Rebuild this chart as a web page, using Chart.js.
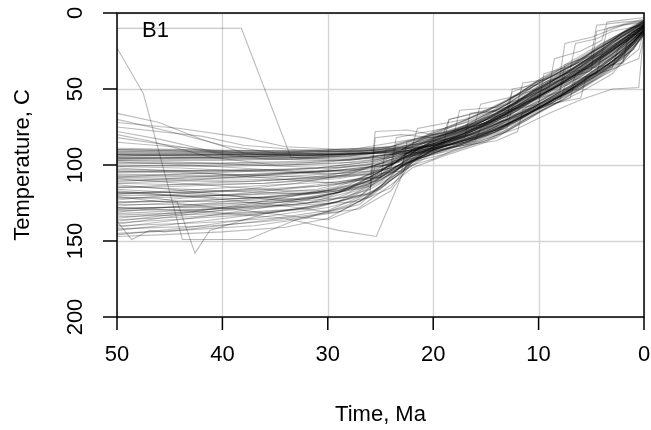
<!DOCTYPE html>
<html>
<head>
<meta charset="utf-8">
<script src="https://cdn.jsdelivr.net/npm/chart.js@4/dist/chart.umd.min.js"></script>
<style>
  html, body { margin: 0; padding: 0; background: #fff; }
  #wrap { width: 651px; height: 430px; }
</style>
</head>
<body>
<div id="wrap"><canvas id="tt" width="651" height="430"></canvas></div>
<script>
// axis ticks
const timeTicks = [50, 40, 30, 20, 10, 0];
const tempTicks = [0, 50, 100, 150, 200];

// thermal histories, each one a list of [time Ma, temperature C]
// paths that sit near 90-97 C before cooling
const flatPaths = [
  [[50,90],[40,91],[30,90],[24,88],[20,79],[16,70],[12,57],[9,45],[6,33],[3,19],[0,7]],
  [[50,92],[43,92],[35,92],[27,91],[22,89],[18,86],[14,77],[11,66],[8,55],[5,41],[2,28],[0,13]],
  [[50,93],[38,94],[29,93],[23,90],[20,78],[17,72],[15,66],[13,62],[12.5,52],[9,42],[6,32],[4,20],[1,9],[0,5]],
  [[50,95],[41,95],[32,94],[25,92],[21,90],[17,85],[14,78],[10,60],[7,50],[4.5,40],[4,27],[1.5,18],[0,12]],
  [[50,90],[44,90],[36,91],[28,91],[23.5,89],[20,84],[15,74],[11,58],[8,47],[5,33],[2,20],[0,10]],
  [[50,96],[39,96],[30,95],[26,94],[22,92],[18,88],[16,84],[15.5,76],[12,68],[9,58],[6,49],[3,38],[0.5,24],[0,12]],
  [[50,91],[45,91],[34,92],[26,90],[21,84],[17,76],[13,63],[10,52],[7,40],[4,26],[2,17],[0,8]],
  [[50,94],[40,93],[31,92],[24,90],[20,87],[16,80],[13,70],[9,57],[7,52],[6.5,40],[3,28],[0,11]],
  [[50,89],[42,90],[33,91],[27,89],[21,82],[19,79],[18.5,70],[14,62],[10,45],[7,33],[4,21],[1,8],[0,5]],
  [[50,92],[36,93],[28,92],[23,91],[20,88],[15,79],[12,70],[9,60],[6,50],[3,36],[2.5,24],[0,9]],
  [[50,97],[40,97],[33,96],[26,93],[22,87],[18,78],[14,68],[11,55],[8,43],[5,29],[2,15],[0,7]],
  [[50,93],[44,94],[37,94],[30,93],[25,92],[21,92],[17,87],[13,77],[10,65],[8,58],[7.5,48],[4,38],[1,24],[0,13]],
  [[50,91],[39,92],[29,91],[24,89],[22,88],[21.5,76],[17,70],[13,58],[10,44],[6,30],[3,17],[0,6]],
  [[50,95],[41,95],[32,95],[27,93],[23,91],[19,86],[15,77],[11,63],[8,50],[5,37],[2,25],[0,11]],
  [[50,90],[42,91],[34,91],[28,90],[24,88],[21,86],[18,82],[15,73],[12,62],[9,51],[6,41],[3,27],[0,9]],
  [[50,94],[38,93],[30,93],[25,90],[20,80],[17,74],[14,66],[11,55],[8,42],[5,30],[3,22],[0,8]],
  [[50,96],[40,96],[32,96],[26,95],[22,91],[19,85],[16,79],[13,70],[10,60],[7,48],[4,34],[1,19],[0,10]],
  [[50,93],[42,93],[34,93],[27,92],[23,90],[20,86],[17,79],[14,70],[11,59],[8,47],[5,34],[2,20],[0,9]]
];

// paths starting cooler and heating into the band
const coolPaths = [
  [[50,66],[46,72],[42,83],[38,92],[32,94],[26,92],[22,88],[18,78],[14,67],[10,50],[7,38],[4,24],[1,10],[0,7]],
  [[50,70],[45,78],[40,87],[35,92],[29,93],[24,92],[20,89],[16,82],[12,70],[9,59],[5,44],[2,29],[0,13]],
  [[50,75],[42,81],[38,87],[33,90],[27,91],[22,88],[19,80],[15,72],[11,57],[8,46],[5,34],[3,24],[0,9]],
  [[50,78],[46,83],[41,91],[36,96],[30,97],[25,95],[21,91],[17,85],[13,74],[10,62],[7,52],[3,35],[0,12]],
  [[50,82],[44,88],[39,94],[33,95],[28,94],[23,90],[20,79],[15,65],[12,54],[8,39],[5,28],[2,13],[0,6]],
  [[50,85],[43,89],[37,93],[31,94],[25,92],[21,88],[18,84],[14,74],[10,60],[6,44],[3,30],[0,11]],
  [[50,80],[47,84],[41,95],[35,100],[29,99],[24,95],[20,86],[16,77],[12,63],[9,52],[6,42],[3,27],[0,9]],
  [[50,72],[44,76],[38,82],[34,88],[28,90],[23,88],[20,81],[16,72],[13,62],[10,49],[7,39],[4,27],[1,14],[0,8]]
];

// paths starting hotter, cooling through 30-20 Ma
const hotPaths = [
  [[50,100],[42,101],[34,100],[27,98],[22,93],[19,88],[15,80],[12,70],[9,59],[6,46],[3,32],[0,12]],
  [[50,103],[40,104],[31,102],[25,97],[21,83],[17,71],[13,57],[10,45],[7,34],[4,22],[1,10],[0,7]],
  [[50,106],[41,107],[33,105],[27,103],[23,98],[20,90],[16,82],[12,71],[8,55],[5,43],[2,30],[0,14]],
  [[50,108],[43,109],[35,108],[28,105],[24,99],[23.5,82],[19,76],[15,65],[11,50],[8,39],[5,26],[2,14],[0,6]],
  [[50,110],[38,111],[30,108],[25,103],[22,94],[18,84],[14,73],[10,55],[7,42],[4,28],[1,14],[0,8]],
  [[50,112],[44,113],[36,112],[29,109],[25,104],[21,95],[17,88],[13,78],[9,62],[6,52],[3,40],[0,15]],
  [[50,114],[40,117],[32,119],[28,115],[25,104],[22,92],[19,83],[14,67],[11,54],[8,42],[4,24],[2,13],[0,6]],
  [[50,116],[45,118],[38,121],[32,123],[28,116],[25,104],[23,95],[20,89],[16,82],[12,69],[9,60],[6,48],[3,34],[0,13]],
  [[50,118],[42,118],[34,116],[28,112],[25,106],[22,90],[19,82],[15,72],[11,57],[7,40],[4,28],[1,12],[0,8]],
  [[50,120],[39,120],[31,118],[28,113],[25,103],[22,93],[20,87],[16,78],[13,67],[10,55],[7,43],[4,29],[1,14],[0,9]],
  [[50,122],[44,121],[37,119],[31,116],[27,109],[24,98],[21,92],[17,84],[13,73],[10,62],[6,47],[3,33],[0,12]],
  [[50,124],[40,124],[33,122],[29,118],[26,108],[23,96],[21,88],[18,79],[14,64],[11,52],[8,40],[5,27],[2,13],[0,6]],
  [[50,126],[43,126],[35,124],[30,121],[27,113],[24,103],[22,96],[19,90],[15,81],[12,71],[9,58],[6,46],[3,30],[0,11]],
  [[50,128],[41,128],[33,126],[29,122],[26,116],[25.5,100],[21,84],[17,75],[14,66],[10,49],[7,38],[4,25],[1,11],[0,6]],
  [[50,130],[42,129],[35,127],[30,124],[27,116],[24,104],[22,97],[19,91],[16,83],[12,70],[9,58],[5,43],[2,28],[0,13]],
  [[50,132],[44,130],[37,128],[32,125],[28,118],[25,107],[22.5,92],[19,83],[15,72],[11,56],[8,45],[5,33],[2,20],[0,10]],
  [[50,134],[40,132],[33,129],[29,124],[26,113],[23,99],[21,86],[17,74],[13,59],[10,44],[7,32],[4,20],[1,9],[0,5]],
  [[50,136],[43,134],[36,131],[31,128],[27,120],[24,108],[22,100],[20,96],[18,90],[14,82],[11,69],[8,58],[5,46],[2,32],[0,14]],
  [[50,138],[45,136],[38,133],[32,129],[28,122],[25,111],[22,96],[18,84],[15,75],[12,64],[9,52],[5,33],[2,18],[0,8]],
  [[50,140],[42,138],[35,135],[30,130],[27,121],[25,108],[22,94],[19,88],[16,81],[12,68],[9,56],[6,45],[3,32],[0,12]],
  [[50,142],[41,140],[34,136],[29,131],[26,120],[23,105],[21,92],[17,80],[13,66],[10,52],[7,40],[4,26],[1,12],[0,8]],
  [[50,145],[44,143],[37,140],[32,135],[28,126],[25,114],[23,100],[19,90],[15,80],[11,66],[8,55],[5,41],[2,27],[0,11]],
  [[50,147],[46,146],[40,144],[34,141],[30,135],[27,124],[24,109],[21,92],[17,79],[13,64],[10,48],[7,37],[3,21],[0,8]],
  [[50,99],[43,99],[36,98],[29,97],[24,93],[21,86],[17,76],[13,65],[10,52],[7,41],[4,29],[1,14],[0,8]],
  [[50,104],[40,106],[32,108],[26,106],[23,100],[22.5,92],[18,86],[14,77],[10,61],[7,50],[4,37],[2,26],[0,12]],
  [[50,109],[42,113],[34,117],[29,117],[26,110],[23.5,96],[20,84],[16,74],[12,58],[9,45],[6,35],[3,19],[0,6]],
  [[50,113],[45,116],[38,121],[32,125],[28,121],[25,110],[22,97],[18,88],[14,78],[11,66],[8,55],[5,40],[2,25],[0,12]],
  [[50,117],[41,122],[34,127],[30,131],[27,126],[25,114],[22,94],[19,85],[16,76],[12,62],[9,50],[6,39],[3,24],[0,9]],
  [[50,121],[46,124],[39,129],[33,134],[30,136],[27,128],[24,113],[22,102],[19,94],[15,85],[11,70],[8,56],[4,37],[1,21],[0,11]],
  [[50,127],[43,124],[36,121],[30,117],[26,110],[23,99],[21,92],[19,84],[15,70],[12,58],[8,42],[5,30],[2,15],[0,7]],
  [[50,131],[44,127],[38,123],[31,118],[25,110],[22,96],[18,87],[14,78],[11,67],[8,54],[5,39],[2,24],[0,10]],
  [[50,135],[41,129],[34,124],[29,118],[26,110],[23,99],[21,91],[17,79],[13,65],[10,52],[7,41],[4,27],[1,13],[0,8]],
  [[50,139],[45,134],[37,127],[31,121],[26,114],[23,101],[20,92],[16,84],[12,72],[9,60],[6,49],[3,35],[0,13]],
  [[50,143],[42,137],[35,131],[29,124],[25,116],[22,98],[19,85],[16,76],[12,62],[9,49],[6,38],[3,22],[0,7]],
  [[50,97],[44,98],[37,100],[30,102],[25,99],[22,91],[18,81],[14,69],[10,54],[7,44],[4,30],[1,15],[0,9]],
  [[50,102],[42,105],[35,109],[29,112],[25,108],[22,98],[19,93],[15,84],[11,69],[8,58],[5,45],[2,31],[0,14]],
  [[50,111],[43,108],[36,106],[30,104],[24,100],[21,85],[17,74],[13,60],[10,46],[7,35],[4,22],[1,9],[0,5]],
  [[50,119],[42,116],[35,113],[29,111],[25,107],[22,97],[19,88],[15,78],[12,68],[8,52],[5,41],[2,27],[0,11]],
  [[50,125],[44,122],[37,118],[31,113],[26,108],[23,96],[20,84],[16,72],[13,60],[10,46],[7,35],[4,22],[1,9],[0,6]],
  [[50,141],[43,135],[36,128],[30,120],[26,112],[23,99],[20,84],[16,74],[12,59],[9,47],[6,35],[3,20],[0,6]],
  [[50,146],[43,141],[36,134],[30,128],[26,121],[24,110],[21,95],[18,87],[14,79],[10,63],[7,51],[4,39],[1,24],[0,12]],
  [[50,105],[45,104],[38,103],[32,104],[26,103],[23,97],[20,83],[16,73],[12,58],[9,46],[6,33],[3,19],[0,8]],
  [[50,98],[43,100],[36,103],[30,106],[26,104],[23,96],[20,87],[17,80],[14,71],[11,60],[8,48],[5,36],[2,22],[0,10]],
  [[50,115],[42,112],[35,110],[30,107],[27,103],[24,97],[21,89],[18,83],[15,76],[12,66],[9,54],[6,42],[3,28],[0,11]],
  [[50,123],[44,119],[38,116],[33,112],[28,106],[25,99],[22,91],[19,84],[16,76],[13,66],[10,55],[7,44],[4,31],[1,16],[0,9]],
  [[50,104],[41,104],[33,103],[27,101],[23,95],[20,88],[17,80],[14,70],[11,58],[8,47],[5,35],[2,21],[0,9]],
  [[50,112],[43,110],[37,107],[31,104],[26,99],[23,93],[20,86],[16,77],[12,63],[9,51],[6,39],[3,25],[0,10]],
  [[50,137],[44,132],[38,126],[33,120],[29,114],[26,106],[23,97],[20,88],[17,81],[13,70],[10,57],[7,45],[4,32],[1,17],[0,9]],
  [[50,101],[44,102],[38,104],[33,105],[28,104],[24,98],[21,91],[18,85],[15,78],[11,64],[8,53],[5,41],[2,27],[0,12]],
  [[50,118],[45,120],[39,122],[34,121],[29,117],[25,108],[22,97],[19,88],[16,79],[12,64],[9,51],[6,40],[3,25],[0,8]],
  [[50,129],[43,127],[36,124],[31,121],[27,115],[24,106],[22,97],[19,87],[16,77],[12,62],[9,50],[6,38],[3,23],[0,7]],
  [[50,108],[44,106],[37,104],[31,102],[26,98],[23,92],[20,85],[17,77],[14,67],[11,55],[8,44],[5,31],[2,17],[0,8]]
];

// paths with stepwise jumps
const jumpPaths = [
  [[50,98],[40,99],[30,98],[25,95],[21,88],[17,82],[16.5,66],[14,64],[12,59],[11.5,46],[9.5,44],[7,37],[6.5,20],[4.5,17],[3,12],[0,8]],
  [[50,125],[38,122],[30,118],[26,113],[25.5,78],[22.5,77],[20,80],[17,76],[14,71],[10,58],[8,51],[7.5,34],[5,28],[4.5,8],[2,6],[0,5]],
  [[50,101],[41,100],[33,99],[27,96],[22,90],[19,86],[18.5,70],[16,66],[13,64],[10,60],[9.5,40],[7,35],[4,27],[3.5,10],[0,4]],
  [[50,119],[40,117],[31,114],[25,108],[24.5,90],[21,85],[17,81],[13,76],[12.5,62],[10,56],[8,52],[7.5,40],[5,36],[2,33],[1.5,15],[0,13]],
  [[50,133],[42,131],[34,127],[27,124],[23,105],[20,92],[16,85],[12,76],[9,66],[6,57],[3,50],[0.5,49],[0,12]],
  [[50,107],[39,108],[31,105],[26,101],[22,94],[18,88],[14,84],[12,78],[11.5,64],[9,60],[6,56],[5.5,42],[3,37],[0.5,30],[0,16]],
  [[50,96],[42,95],[34,94],[28,93],[23,90],[20,84],[18,79],[17.5,64],[14,62],[11,55],[9,49],[8.5,30],[6,25],[4,18],[3.5,6],[0,3]],
  [[50,115],[44,114],[36,112],[29,108],[24,102],[23.5,86],[20,80],[16,74],[13,68],[10,63],[7,56],[6.5,44],[4,38],[2,30],[0,14]],
  [[50,129],[41,127],[33,124],[28,121],[26,119],[25.5,82],[23,80],[20,82],[15,74],[13,70],[12.5,50],[10,47],[8,42],[7.5,20],[5,16],[2,8],[0,6]],
  [[50,109],[40,110],[32,109],[27,107],[23,104],[22.5,85],[19,80],[16,72],[15.5,60],[13,56],[10,50],[8,44],[5,38],[4.5,12],[2,8],[0,5]]
];

// the odd ones
const outlierPaths = [
  [[50,10],[38.2,10],[33.5,95],[28,97],[23,92],[20,86],[16,79],[12,67],[9,55],[6,44],[3,29],[0,11]],
  [[50,23],[47.5,53],[43.8,149],[37.6,149],[33,136],[28,127],[24,115],[22,96],[19,84],[15,72],[11,57],[8,45],[4,28],[1,13],[0,8]],
  [[50,121],[46,122],[44.3,124],[42.6,158],[41.2,143],[36,132],[30,126],[26,119],[23,103],[20,90],[16,81],[12,70],[9,59],[5,42],[2,26],[0,11]],
  [[50,137],[48.6,149],[46.9,143],[45.5,144],[39,139],[33,134],[27,129],[24,117],[22,98],[19,86],[15,74],[11,59],[8,47],[4,30],[1,14],[0,9]],
  [[50,128],[41,131],[34,135],[29,143],[25.4,147],[24,124],[22.5,99],[20,90],[17,83],[13,72],[10,61],[7,49],[4,35],[1,19],[0,12]]
];

const allPaths = [...flatPaths, ...coolPaths, ...hotPaths, ...jumpPaths, ...outlierPaths];

const FONT = '22px "Liberation Sans", Arial, Helvetica, sans-serif';

// R-style box, ticks and labels drawn from the chart's own scales
const rAxes = {
  id: 'rAxes',
  beforeDatasetsDraw(chart) {
    const { ctx, chartArea: a, scales: { x, y } } = chart;
    ctx.save();
    ctx.strokeStyle = '#d3d3d3';
    ctx.lineWidth = 1.3;
    ctx.beginPath();
    timeTicks.forEach(t => {
      const px = Math.round(x.getPixelForValue(t)) + 0.5;
      ctx.moveTo(px, a.top); ctx.lineTo(px, a.bottom);
    });
    tempTicks.forEach(t => {
      const py = Math.round(y.getPixelForValue(t)) + 0.5;
      ctx.moveTo(a.left, py); ctx.lineTo(a.right, py);
    });
    ctx.stroke();
    ctx.restore();
  },
  afterDatasetsDraw(chart) {
    const { ctx, chartArea: a, scales: { x, y } } = chart;
    ctx.save();
    ctx.strokeStyle = '#000';
    ctx.lineWidth = 1.5;
    ctx.strokeRect(a.left, a.top, a.right - a.left, a.bottom - a.top);
    ctx.beginPath();
    timeTicks.forEach(t => {
      const px = x.getPixelForValue(t);
      ctx.moveTo(px, a.bottom); ctx.lineTo(px, a.bottom + 13);
    });
    tempTicks.forEach(t => {
      const py = y.getPixelForValue(t);
      ctx.moveTo(a.left, py); ctx.lineTo(a.left - 14, py);
    });
    ctx.stroke();

    ctx.fillStyle = '#000';
    ctx.font = FONT;
    ctx.textAlign = 'center';
    ctx.textBaseline = 'alphabetic';
    timeTicks.forEach(t => ctx.fillText(String(t), x.getPixelForValue(t), 361));
    ctx.fillText('Time, Ma', (a.left + a.right) / 2, 421);

    tempTicks.forEach(t => {
      ctx.save();
      ctx.translate(82, y.getPixelForValue(t));
      ctx.rotate(-Math.PI / 2);
      ctx.fillText(String(t), 0, 0);
      ctx.restore();
    });
    ctx.save();
    ctx.translate(29, (a.top + a.bottom) / 2);
    ctx.rotate(-Math.PI / 2);
    ctx.fillText('Temperature, C', 0, 0);
    ctx.restore();

    ctx.textAlign = 'left';
    ctx.fillText('B1', 142, 37);
    ctx.restore();
  }
};

new Chart(document.getElementById('tt'), {
  type: 'scatter',
  data: {
    datasets: allPaths.map(p => ({
      data: p.map(([t, temp]) => ({ x: t, y: temp })),
      showLine: true,
      borderColor: 'rgba(0,0,0,0.27)',
      borderWidth: 1.1,
      pointRadius: 0,
      tension: 0
    }))
  },
  options: {
    responsive: false,
    animation: false,
    devicePixelRatio: 1,
    layout: { padding: { left: 117, right: 7, top: 13, bottom: 113 } },
    plugins: { legend: { display: false }, tooltip: { enabled: false } },
    scales: {
      x: { type: 'linear', min: 0, max: 50, reverse: true, display: false },
      y: { type: 'linear', min: 0, max: 200, reverse: true, display: false }
    }
  },
  plugins: [rAxes]
});
</script>
</body>
</html>
